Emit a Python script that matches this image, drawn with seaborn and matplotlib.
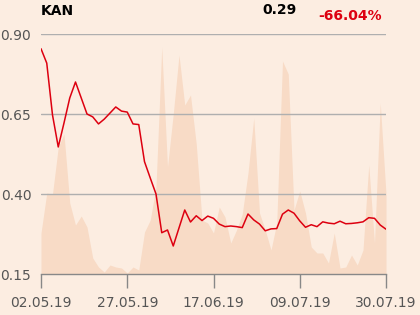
import matplotlib
matplotlib.use("Agg")
import matplotlib.pyplot as plt
import seaborn as sns
import numpy as np
import pandas as pd

# ---- data ----
ticker = "KAN"
last_price_label = "0.29"
change_label = "-66.04%"

price = [0.854, 0.809, 0.647, 0.547, 0.622, 0.700, 0.750, 0.700, 0.650, 0.641,
         0.619, 0.634, 0.653, 0.672, 0.659, 0.656, 0.619, 0.617, 0.501, 0.450,
         0.400, 0.279, 0.2875, 0.2375, 0.294, 0.350, 0.3125, 0.332, 0.317, 0.331,
         0.324, 0.306, 0.298, 0.300, 0.298, 0.295, 0.3375, 0.319, 0.306, 0.285,
         0.291, 0.292, 0.337, 0.350, 0.340, 0.316, 0.296, 0.304, 0.298, 0.313,
         0.309, 0.307, 0.315, 0.307, 0.308, 0.310, 0.313, 0.326, 0.324, 0.303,
         0.290]

volume = [41, 81, 80, 127, 140, 71, 49, 58, 47, 16,
          7, 2, 9, 7, 6, 1, 7, 4, 42, 54,
          87, 227, 107, 160, 219, 169, 179, 130, 54, 51,
          41, 67, 57, 31, 44, 60, 101, 156, 61, 44,
          24, 51, 213, 200, 64, 83, 61, 27, 21, 21,
          11, 41, 6, 7, 19, 9, 24, 109, 31, 171,
          80]

tick_positions = [0, 15, 30, 45, 60]
tick_labels = ["02.05.19", "27.05.19", "17.06.19", "09.07.19", "30.07.19"]
y_ticks = [0.15, 0.40, 0.65, 0.90]
y_tick_labels = ["0.15", "0.40", "0.65", "0.90"]

df = pd.DataFrame({"idx": np.arange(len(price)), "price": price, "volume": volume})

# ---- style ----
bg = "#FCEDE1"
fill_c = "#F8DBC6"
red = "#DD0010"
grid_c = "#AFAFAF"
txt_c = "#555555"

sns.set_theme(style="white")
plt.rcParams["font.family"] = ["DejaVu Sans"]

fig = plt.figure(figsize=(4.2, 3.15), dpi=100, facecolor=bg)
ax_v = fig.add_axes([41/420, 1-274/315, (386-41)/420, (274-34)/315])
ax_v.set_facecolor(bg)
ax_v.fill_between(df["idx"], 0, df["volume"], color=fill_c, lw=0)
ax_v.set_ylim(0, 240)
ax_v.set_xlim(0, len(price)-1)
ax_v.set_yticks([])
for s in ax_v.spines.values():
    s.set_visible(False)

ax = ax_v.twinx()
ax.patch.set_visible(False)
sns.lineplot(data=df, x="idx", y="price", ax=ax, color=red, lw=1.1)
ax.set_ylim(0.15, 0.90)
ax.yaxis.tick_left()
ax.yaxis.set_label_position("left")
ax.set_yticks(y_ticks)
ax.set_yticklabels(y_tick_labels)
ax.tick_params(axis="y", length=0, pad=7, labelsize=10, labelcolor=txt_c)
for yv in y_ticks[1:]:
    ax.axhline(yv, color=grid_c, lw=1, zorder=0)
ax.set_xlabel("")
ax.set_ylabel("")
ax.tick_params(axis="x", bottom=False, labelbottom=False, top=False, labeltop=False)
for s in ax.spines.values():
    s.set_visible(False)

ax_v.set_xlim(0, len(price)-1)
ax_v.set_xticks(tick_positions)
ax_v.set_xticklabels(tick_labels)
ax_v.tick_params(axis="x", length=10, width=1, color="#888888", pad=6,
                 labelsize=10, labelcolor=txt_c, bottom=True, labelbottom=True)
ax_v.spines["bottom"].set_visible(True)
ax_v.spines["bottom"].set_color("#888888")
ax_v.spines["bottom"].set_linewidth(1)

fig.text(41/420, 1-11/315, ticker, fontsize=10, fontweight="bold",
         color="black", va="center", ha="left")
fig.text(297/420, 1-10/315, last_price_label, fontsize=10, fontweight="bold",
         color="black", va="center", ha="right")
fig.text(382/420, 1-16/315, change_label, fontsize=10, fontweight="bold",
         color=red, va="center", ha="right")

fig.savefig("out.png", dpi=100, facecolor=bg)
